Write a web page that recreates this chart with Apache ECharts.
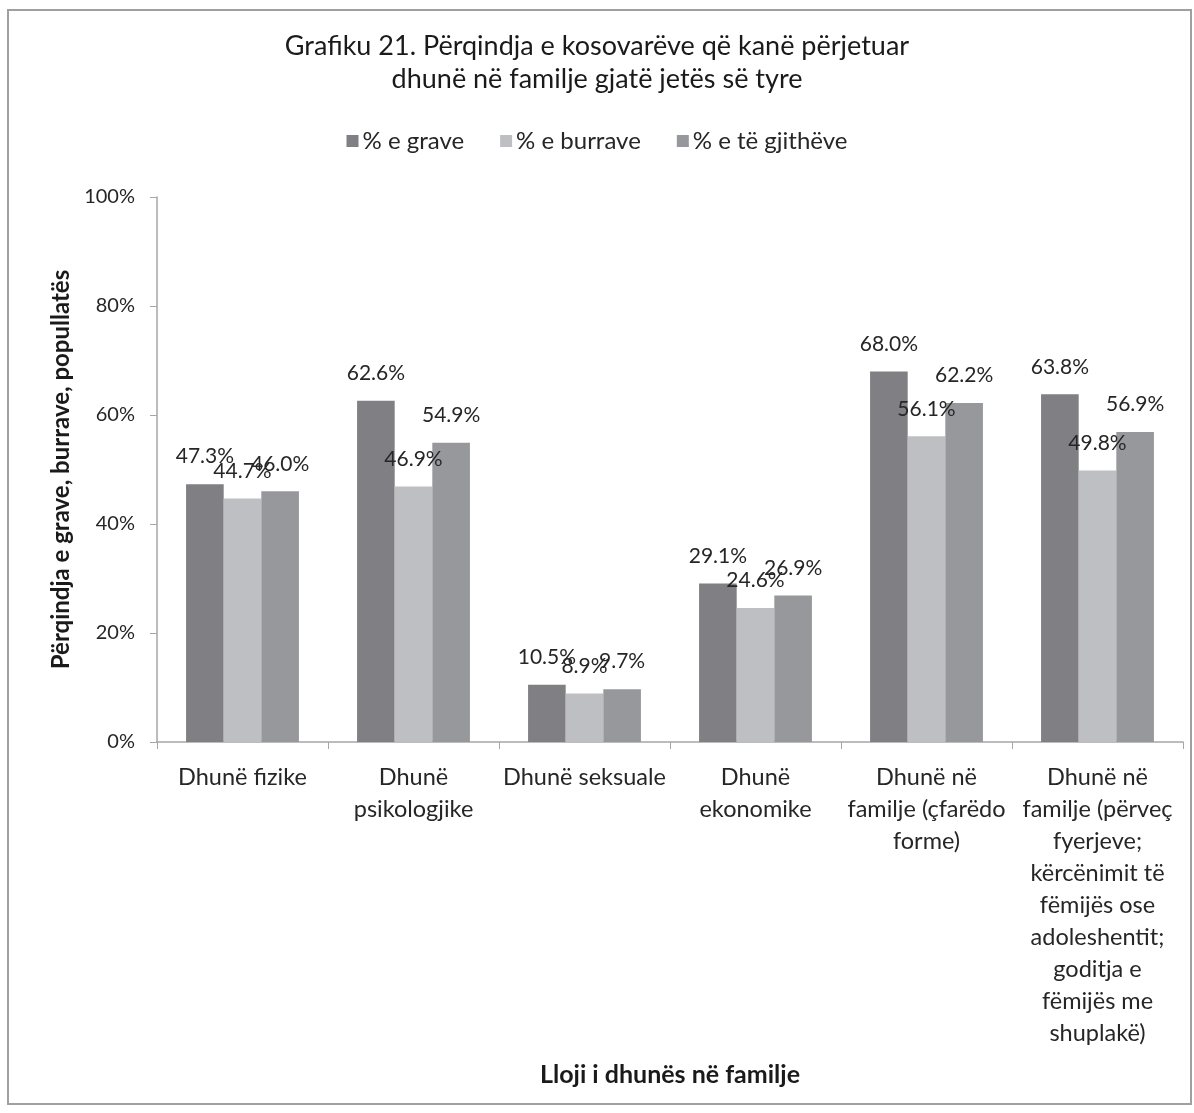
<!DOCTYPE html>
<html>
<head>
<meta charset="utf-8">
<script src="https://cdn.jsdelivr.net/npm/echarts@6/dist/echarts.min.js"></script>
<style>
html,body{margin:0;padding:0;background:#fff;}
#c{width:1194px;height:1113px;}
</style>
</head>
<body>
<div id="c"></div>
<script>
const categories = [
  "Dhunë fizike",
  "Dhunë\npsikologjike",
  "Dhunë seksuale",
  "Dhunë\nekonomike",
  "Dhunë në\nfamilje (çfarëdo\nforme)",
  "Dhunë në\nfamilje (përveç\nfyerjeve;\nkërcënimit të\nfëmijës ose\nadoleshentit;\ngoditja e\nfëmijës me\nshuplakë)"
];
const seriesNames = ["% e grave", "% e burrave", "% e të gjithëve"];
const grave = [47.3, 62.6, 10.5, 29.1, 68.0, 63.8];
const burrave = [44.7, 46.9, 8.9, 24.6, 56.1, 49.8];
const gjitheve = [46.0, 54.9, 9.7, 26.9, 62.2, 56.9];
const yTicks = [0, 20, 40, 60, 80, 100];
const titleLines = [
  "Grafiku 21. Përqindja e kosovarëve që kanë përjetuar",
  "dhunë në familje gjatë jetës së tyre"
];

const colors = ["#7f7f84", "#bebfc3", "#97989c"];
const FONT = "Lato";

const chart = echarts.init(document.getElementById('c'));
const mk = (name, data, color) => ({
  name: name,
  type: 'bar',
  data: data,
  barGap: '0%',
  barCategoryGap: '34%',
  itemStyle: { color: color },
  label: {
    show: true,
    position: 'top',
    distance: 17,
    fontFamily: FONT,
    fontSize: 21,
    color: '#262626',
    formatter: p => p.value.toFixed(1) + '%'
  }
});

chart.setOption({
  animation: false,
  textStyle: { fontFamily: FONT },
  title: titleLines.map((t, i) => ({
    text: t,
    left: 'center',
    top: 32 + i * 33,
    padding: 0,
    textStyle: { fontFamily: FONT, fontSize: 27, fontWeight: 'normal', color: '#1a1a1a', lineHeight: 28 }
  })),
  legend: {
    top: 129,
    left: 'center',
    icon: 'rect',
    itemWidth: 12,
    itemHeight: 12,
    itemGap: 36,
    padding: 0,
    textStyle: { fontFamily: FONT, fontSize: 24, color: '#262626', padding: [0, 0, 0, -1] },
    data: seriesNames
  },
  grid: { left: 157, right: 11, top: 197, bottom: 371, containLabel: false },
  xAxis: {
    type: 'category',
    data: categories,
    name: 'Lloji i dhunës në familje',
    nameLocation: 'middle',
    nameGap: 320,
    nameTextStyle: { fontFamily: FONT, fontSize: 25, fontWeight: 'bold', color: '#1a1a1a' },
    axisLine: { lineStyle: { color: '#a6a6a6', width: 1.5 } },
    axisTick: { show: true, length: 7, lineStyle: { color: '#a6a6a6' } },
    axisLabel: { fontFamily: FONT, fontSize: 23.5, color: '#262626', lineHeight: 32, margin: 19, interval: 0 }
  },
  yAxis: {
    type: 'value',
    min: 0,
    max: 100,
    interval: 20,
    name: 'Përqindja e grave, burrave, popullatës',
    nameLocation: 'middle',
    nameGap: 83,
    nameTextStyle: { fontFamily: FONT, fontSize: 24, fontWeight: 'bold', color: '#1a1a1a' },
    splitLine: { show: false },
    axisLine: { show: true, lineStyle: { color: '#a6a6a6', width: 1.5 } },
    axisTick: { show: true, length: 7, lineStyle: { color: '#a6a6a6' } },
    axisLabel: { fontFamily: FONT, fontSize: 20, color: '#262626', margin: 22,
      formatter: v => yTicks.includes(v) ? v + '%' : '' }
  },
  graphic: [{
    type: 'rect',
    shape: { x: 8, y: 10, width: 1183, height: 1094 },
    style: { fill: 'none', stroke: '#a0a0a0', lineWidth: 2 },
    silent: true
  }],
  series: [
    mk(seriesNames[0], grave, colors[0]),
    mk(seriesNames[1], burrave, colors[1]),
    mk(seriesNames[2], gjitheve, colors[2])
  ]
});
</script>
</body>
</html>
